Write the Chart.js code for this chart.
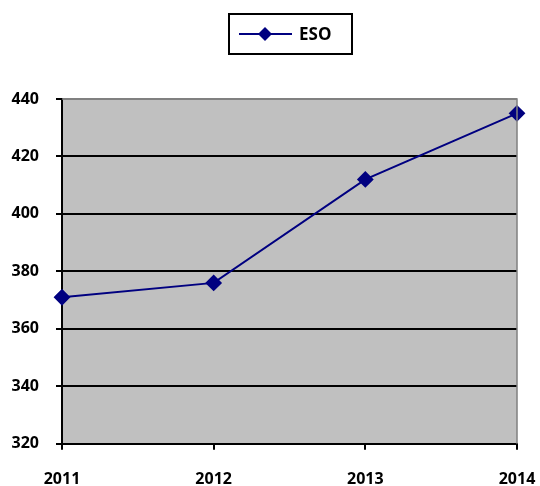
<!DOCTYPE html>
<html>
<head>
<meta charset="utf-8">
<script src="https://cdn.jsdelivr.net/npm/chart.js@4/dist/chart.umd.min.js"></script>
<style>
  html, body { margin: 0; padding: 0; background: #fff; }
  #wrap { width: 540px; height: 486px; position: relative; }
</style>
</head>
<body>
<div id="wrap"><canvas id="chart"></canvas></div>
<script>
// Chart data
const years = ['2011', '2012', '2013', '2014'];
const esoValues = [371, 376, 412, 435];
const yTicks = [320, 340, 360, 380, 400, 420, 440];

const navy = '#000080';
const font = { family: '"Open Sans", sans-serif', size: 16, weight: 'bold' };

// Gray plot area with border + boxed legend at top
const plotFrame = {
    id: 'plotFrame',
    beforeDraw(chart) {
        const { ctx, chartArea: a } = chart;
        ctx.save();
        ctx.fillStyle = '#C0C0C0';
        ctx.fillRect(a.left, a.top, a.right - a.left, a.bottom - a.top);
        ctx.restore();
    },
    afterDatasetsDraw(chart) {
        const { ctx, chartArea: a } = chart;
        ctx.save();
        ctx.strokeStyle = '#808080';
        ctx.lineWidth = 1.5;
        ctx.beginPath();
        ctx.moveTo(a.left, a.top);
        ctx.lineTo(a.right, a.top);
        ctx.lineTo(a.right, a.bottom);
        ctx.stroke();
        ctx.restore();
    },
    afterDraw(chart) {
        const ctx = chart.ctx;
        ctx.save();
        // legend box
        ctx.strokeStyle = '#000';
        ctx.lineWidth = 2;
        ctx.strokeRect(229, 14, 123, 40);
        // line sample
        ctx.strokeStyle = navy;
        ctx.lineWidth = 2;
        ctx.beginPath();
        ctx.moveTo(239, 34);
        ctx.lineTo(292, 34);
        ctx.stroke();
        // diamond
        ctx.fillStyle = navy;
        ctx.beginPath();
        ctx.moveTo(265, 27);
        ctx.lineTo(272, 34);
        ctx.lineTo(265, 41);
        ctx.lineTo(258, 34);
        ctx.closePath();
        ctx.fill();
        // label
        ctx.fillStyle = '#000';
        ctx.font = 'bold 17px "Open Sans", sans-serif';
        ctx.textBaseline = 'middle';
        ctx.textAlign = 'left';
        ctx.fillText('ESO', 299, 35);
        ctx.restore();
    }
};

new Chart(document.getElementById('chart'), {
    type: 'line',
    data: {
        labels: years,
        datasets: [{
            label: 'ESO',
            data: esoValues,
            borderColor: navy,
            backgroundColor: navy,
            borderWidth: 2,
            pointStyle: 'rectRot',
            pointRadius: 7,
            pointHoverRadius: 7,
            tension: 0
        }]
    },
    options: {
        responsive: true,
        maintainAspectRatio: false,
        animation: false,
        layout: { padding: { top: 99, left: 0, right: 23, bottom: -23 } },
        plugins: {
            legend: { display: false },
            tooltip: { enabled: false }
        },
        scales: {
            x: {
                offset: false,
                afterFit(scale) {
                    scale.paddingLeft = 0;
                    scale.paddingRight = 0;
                },
                grid: {
                    drawOnChartArea: false,
                    drawTicks: true,
                    tickLength: 6,
                    color: '#000',
                    lineWidth: 2
                },
                border: { color: '#000', width: 2 },
                ticks: { color: '#000', font: font, padding: 20, maxRotation: 0 }
            },
            y: {
                min: 320,
                max: 440,
                afterBuildTicks(axis) {
                    axis.ticks = yTicks.map(v => ({ value: v }));
                },
                afterFit(scale) {
                    scale.width = 62;
                },
                grid: {
                    color: ctx => ctx.tick && ctx.tick.value === 440 ? '#808080' : '#000',
                    lineWidth: 2,
                    tickLength: 6,
                    tickColor: '#000'
                },
                border: { color: '#000', width: 2 },
                ticks: { color: '#000', font: font, padding: 17 }
            }
        }
    },
    plugins: [plotFrame]
});
</script>
</body>
</html>
